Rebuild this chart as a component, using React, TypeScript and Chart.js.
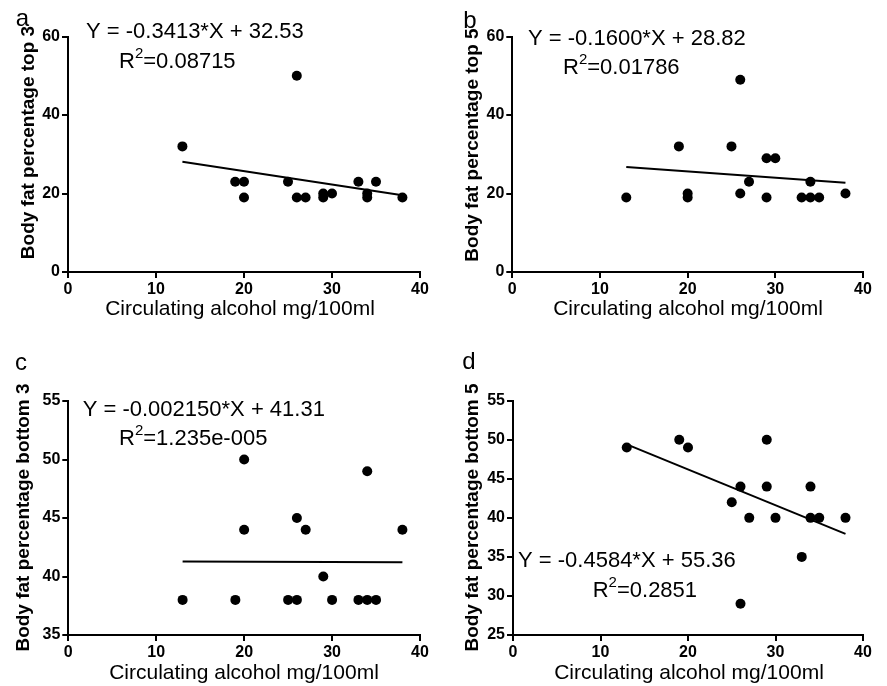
import React, { useEffect, useRef } from 'react';
import { Chart, registerables } from 'chart.js';

Chart.register(...registerables);

const FONT = 'Arial, "Liberation Sans", Helvetica, sans-serif';

// ---------- data ----------
const xTickValues = [0, 10, 20, 30, 40];
const xTitle = 'Circulating alcohol mg/100ml';

const panelLetters = ['a', 'b', 'c', 'd'];
const yTitles = [
  'Body fat percentage top 3',
  'Body fat percentage top 5',
  'Body fat percentage bottom 3',
  'Body fat percentage bottom 5',
];
const yMins = [0, 0, 35, 25];
const yMaxs = [60, 60, 55, 55];
const ySteps = [20, 20, 5, 5];

const slopes = [-0.3413, -0.16, -0.00215, -0.4584];
const intercepts = [32.53, 28.82, 41.31, 55.36];
const eqLabels = [
  'Y = -0.3413*X + 32.53',
  'Y = -0.1600*X + 28.82',
  'Y = -0.002150*X + 41.31',
  'Y = -0.4584*X + 55.36',
];
const r2Labels = ['0.08715', '0.01786', '1.235e-005', '0.2851'];

const aX = [13, 19, 20, 20, 25, 26, 26, 27, 29, 29, 30, 33, 34, 34, 35, 38];
const aY = [32, 23, 23, 19, 23, 50, 19, 19, 19, 20, 20, 23, 20, 19, 23, 19];

const bX = [13, 19, 20, 20, 25, 26, 26, 27, 29, 29, 30, 33, 34, 34, 35, 38];
const bY = [19, 32, 20, 19, 32, 49, 20, 23, 29, 19, 29, 19, 23, 19, 19, 20];

const cX = [13, 19, 20, 20, 25, 26, 26, 27, 29, 30, 33, 34, 34, 35, 38];
const cY = [38, 38, 50, 44, 38, 45, 38, 44, 40, 38, 38, 49, 38, 38, 44];

const dX = [13, 19, 20, 25, 26, 26, 27, 29, 29, 30, 33, 34, 34, 35, 38];
const dY = [49, 50, 49, 42, 44, 29, 40, 50, 44, 40, 35, 44, 40, 40, 40];

const seriesX = [aX, bX, cX, dX];
const seriesY = [aY, bY, cY, dY];

// ---------- layout (canvas-local pixel geometry) ----------
const layouts = [
  { left: 0, top: 0, w: 443, h: 343, areaL: 68, areaR: 420, areaT: 36.5, areaB: 272,
    letter: [22.5, 19.5], eq: [86, 32], r2: [119, 62], yT: [28.3, 142.5], xT: [240, 309] },
  { left: 443, top: 0, w: 444, h: 343, areaL: 69.3, areaR: 420, areaT: 36.5, areaB: 272,
    letter: [27, 21.5], eq: [85, 38.5], r2: [120, 67.5], yT: [30, 145], xT: [245, 309] },
  { left: 0, top: 343, w: 443, h: 343, areaL: 68.3, areaR: 420, areaT: 58, areaB: 292,
    letter: [21, 20], eq: [82.7, 66.5], r2: [119, 96], yT: [23.3, 174.5], xT: [244, 330] },
  { left: 443, top: 343, w: 444, h: 343, areaL: 70, areaR: 420, areaT: 57.7, areaB: 292,
    letter: [26, 19.5], eq: [75, 218], r2: [149.7, 247.8], yT: [30, 174.5], xT: [246, 330] },
];

const panelTextPlugin = {
  id: 'panelText',
  afterDraw(chart: any, _args: any, o: any) {
    const ctx = chart.ctx;
    ctx.save();
    ctx.fillStyle = '#000';
    ctx.textBaseline = 'middle';

    ctx.font = `24px ${FONT}`;
    ctx.textAlign = 'center';
    ctx.fillText(o.letter, o.letterPos[0], o.letterPos[1]);

    ctx.font = `22px ${FONT}`;
    ctx.textAlign = 'left';
    ctx.fillText(o.eq, o.eqPos[0], o.eqPos[1]);

    let x = o.r2Pos[0];
    ctx.fillText('R', x, o.r2Pos[1]);
    x += ctx.measureText('R').width;
    ctx.font = `15px ${FONT}`;
    ctx.fillText('2', x, o.r2Pos[1] - 8);
    x += ctx.measureText('2').width;
    ctx.font = `22px ${FONT}`;
    ctx.fillText('=' + o.r2, x, o.r2Pos[1]);

    ctx.textAlign = 'center';
    ctx.font = `21px ${FONT}`;
    ctx.fillText(o.xTitle, o.xTPos[0], o.xTPos[1]);

    ctx.font = `bold 19px ${FONT}`;
    ctx.translate(o.yTPos[0], o.yTPos[1]);
    ctx.rotate(-Math.PI / 2);
    ctx.fillText(o.yTitle, 0, 0);
    ctx.restore();
  },
};

function Panel({ idx }: { idx: number }) {
  const ref = useRef<HTMLCanvasElement | null>(null);
  const L = layouts[idx];

  useEffect(() => {
    if (!ref.current) return;
    const xs = seriesX[idx];
    const ys = seriesY[idx];
    const pts = xs.map((x, i) => ({ x, y: ys[i] }));
    const xMin = Math.min(...xs);
    const xMax = Math.max(...xs);
    const fit = [
      { x: xMin, y: slopes[idx] * xMin + intercepts[idx] },
      { x: xMax, y: slopes[idx] * xMax + intercepts[idx] },
    ];
    const tickFont = { family: FONT, size: 16, weight: 'bold' as const };

    const chart = new Chart(ref.current, {
      type: 'scatter',
      data: {
        datasets: [
          {
            type: 'scatter',
            data: pts,
            backgroundColor: '#000',
            borderColor: '#000',
            pointRadius: 5,
            pointBorderWidth: 0,
          },
          {
            type: 'line',
            data: fit,
            borderColor: '#000',
            borderWidth: 2,
            pointRadius: 0,
            fill: false,
          } as any,
        ],
      },
      options: {
        responsive: false,
        animation: false,
        events: [],
        layout: {
          autoPadding: false,
          padding: { left: 0, right: L.w - L.areaR, top: L.areaT, bottom: 0 },
        } as any,
        plugins: {
          legend: { display: false },
          tooltip: { enabled: false },
          panelText: {
            letter: panelLetters[idx],
            letterPos: L.letter,
            eq: eqLabels[idx],
            eqPos: L.eq,
            r2: r2Labels[idx],
            r2Pos: L.r2,
            xTitle,
            xTPos: L.xT,
            yTitle: yTitles[idx],
            yTPos: L.yT,
          },
        } as any,
        scales: {
          x: {
            type: 'linear',
            min: xTickValues[0],
            max: xTickValues[xTickValues.length - 1],
            afterBuildTicks: (s: any) => {
              s.ticks = xTickValues.map((v) => ({ value: v }));
            },
            afterFit: (s: any) => {
              s.height = L.h - L.areaB;
            },
            ticks: { color: '#000', font: tickFont, padding: 2, maxRotation: 0 },
            grid: { display: true, drawOnChartArea: false, drawTicks: true, tickLength: 6, color: '#000', lineWidth: 2 },
            border: { display: true, color: '#000', width: 2 },
          },
          y: {
            type: 'linear',
            min: yMins[idx],
            max: yMaxs[idx],
            ticks: { stepSize: ySteps[idx], color: '#000', font: tickFont, padding: 2 },
            afterFit: (s: any) => {
              s.width = L.areaL;
            },
            grid: { display: true, drawOnChartArea: false, drawTicks: true, tickLength: 6, color: '#000', lineWidth: 2 },
            border: { display: true, color: '#000', width: 2 },
          },
        },
      },
      plugins: [panelTextPlugin],
    } as any);
    return () => chart.destroy();
  }, [idx]);

  return (
    <canvas
      ref={ref}
      width={L.w}
      height={L.h}
      style={{ position: 'absolute', left: L.left, top: L.top, width: L.w, height: L.h }}
    />
  );
}

export default function App() {
  return (
    <div style={{ position: 'absolute', left: 0, top: 0, width: 887, height: 686, background: '#fff' }}>
      {[0, 1, 2, 3].map((i) => (
        <Panel key={i} idx={i} />
      ))}
    </div>
  );
}
